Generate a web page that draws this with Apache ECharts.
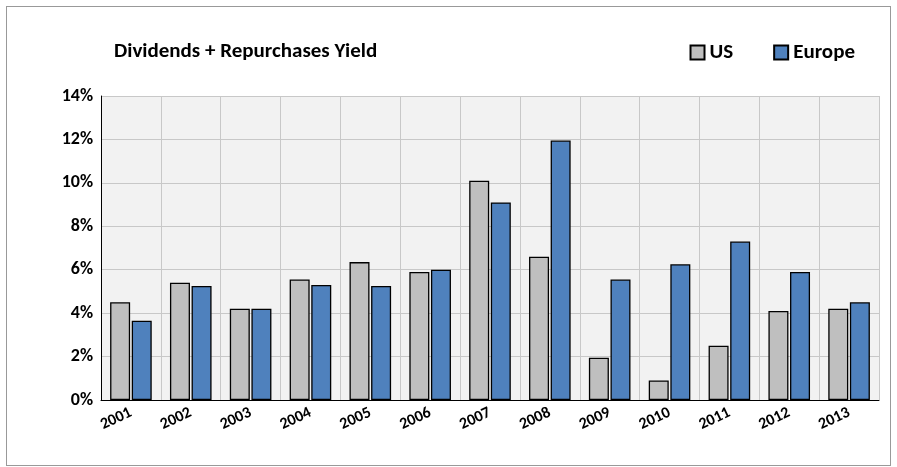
<!DOCTYPE html>
<html>
<head>
<meta charset="utf-8">
<script src="https://cdn.jsdelivr.net/npm/echarts@6/dist/echarts.min.js"></script>
<style>
body{margin:0;background:#fff;}
#chart{position:absolute;left:6px;top:6px;width:885px;height:460px;border:1px solid #999;box-sizing:border-box;}
</style>
</head>
<body>
<div id="chart"></div>
<script>
var years = ['2001','2002','2003','2004','2005','2006','2007','2008','2009','2010','2011','2012','2013'];
var us = [4.5, 5.4, 4.2, 5.55, 6.35, 5.9, 10.1, 6.6, 1.95, 0.9, 2.5, 4.1, 4.2];
var europe = [3.65, 5.25, 4.2, 5.3, 5.25, 6.0, 9.1, 11.95, 5.55, 6.25, 7.3, 5.9, 4.5];

var chart = echarts.init(document.getElementById('chart'));
var font = 'Calibri, "Liberation Sans", Arial, sans-serif';
chart.setOption({
    animation: false,
    title: {
        text: 'Dividends + Repurchases Yield',
        left: 102, top: 29,
        textStyle: {fontFamily: font, fontSize: 21, fontWeight: 'bold', color: '#000'}
    },
    legend: {
        right: 30, top: 30,
        icon: 'rect',
        itemWidth: 14, itemHeight: 14, itemGap: 40,
        textStyle: {fontFamily: font, fontSize: 21, fontWeight: 'bold', color: '#000'},
        data: ['US', 'Europe']
    },
    grid: {left: 94, right: 11, top: 89, bottom: 65, backgroundColor: '#f2f2f2', show: true, borderWidth: 0},
    xAxis: {
        type: 'category',
        data: years,
        axisLine: {lineStyle: {color: '#000'}},
        axisTick: {show: false},
        splitLine: {show: true, lineStyle: {color: '#c8c8c8'}},
        axisLabel: {rotate: 25, fontFamily: font, fontSize: 16, fontWeight: 'bold', color: '#000', margin: 12}
    },
    yAxis: {
        type: 'value', min: 0, max: 14, interval: 2,
        axisLine: {show: true, lineStyle: {color: '#000'}},
        axisTick: {show: false},
        splitLine: {lineStyle: {color: '#c8c8c8'}},
        axisLabel: {formatter: '{value}%', fontFamily: font, fontSize: 18, fontWeight: 'bold', color: '#000'}
    },
    series: [
        {name: 'US', type: 'bar', data: us, barWidth: 20, barGap: '8%',
         itemStyle: {color: '#bfbfbf', borderColor: '#000', borderWidth: 1.3}},
        {name: 'Europe', type: 'bar', data: europe, barWidth: 20,
         itemStyle: {color: '#4f81bd', borderColor: '#000', borderWidth: 1.3}}
    ]
});
</script>
</body>
</html>
